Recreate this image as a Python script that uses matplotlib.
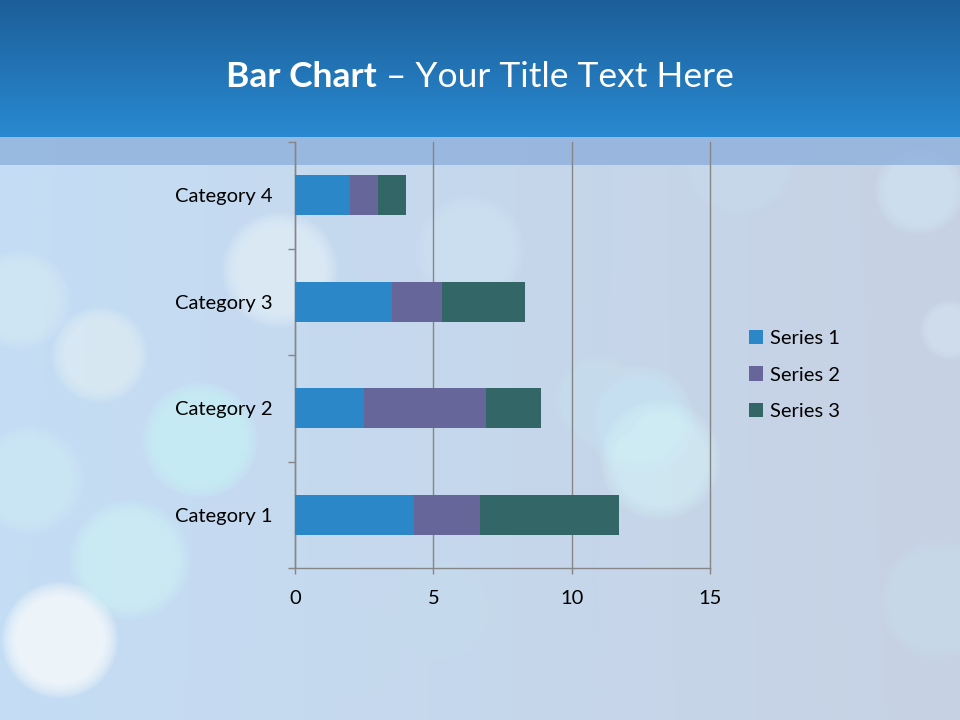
"""Stacked horizontal bar chart on a bokeh-style slide background."""
import matplotlib

matplotlib.use("Agg")

import matplotlib.pyplot as plt
import numpy as np
from matplotlib.patches import Circle, Rectangle

plt.rcParams["font.family"] = ["Lato", "DejaVu Sans"]

categories = ["Category 1", "Category 2", "Category 3", "Category 4"]
series_names = ["Series 1", "Series 2", "Series 3"]
series_1 = [4.3, 2.5, 3.5, 2.0]
series_2 = [2.4, 4.4, 1.8, 1.0]
series_3 = [5.0, 2.0, 3.0, 1.0]
x_ticks = [0, 5, 10, 15]

COLORS = ["#2C87C9", "#66669A", "#336666"]
GRID = "#868686"
W, H = 960, 720
FS = 14.5

fig = plt.figure(figsize=(9.6, 7.2), dpi=100)

# --- slide background (decoration only) ---
bg = fig.add_axes([0, 0, 1, 1])
bg.set_xlim(0, W)
bg.set_ylim(H, 0)
bg.axis("off")

xx = np.linspace(0, 1, W)[None, :, None]
yy = np.linspace(0, 1, H)[:, None, None]
left_col = np.array([0.77, 0.87, 0.96])
right_col = np.array([0.78, 0.82, 0.89])
base = left_col * (1 - xx) + right_col * xx
base = base * (1 - 0.08 * yy) + 0.08 * yy * np.array([0.78, 0.84, 0.93])
bg.imshow(np.clip(base, 0, 1), extent=(0, W, H, 0), interpolation="none",
          aspect="auto", zorder=0)

bokeh = [
    (60, 640, 58, "#FFFFFF", 0.85),
    (130, 560, 60, "#D2F6FB", 0.7),
    (200, 440, 58, "#CDF7FB", 0.7),
    (100, 355, 48, "#EAF6FC", 0.55),
    (280, 270, 58, "#EEF7FD", 0.6),
    (20, 300, 50, "#DFF3FB", 0.5),
    (470, 250, 55, "#D6EAFB", 0.45),
    (440, 610, 50, "#D0ECF8", 0.3),
    (355, 650, 48, "#C8E8F8", 0.35),
    (640, 420, 55, "#C8EDFA", 0.55),
    (660, 460, 60, "#D8F8FC", 0.55),
    (600, 400, 45, "#CBE8F8", 0.4),
    (740, 160, 55, "#CFE6F8", 0.35),
    (920, 190, 45, "#D6ECFB", 0.55),
    (950, 330, 30, "#DCEFFB", 0.45),
    (940, 600, 60, "#CDE6F6", 0.35),
    (700, 690, 55, "#C8E3F7", 0.3),
    (560, 560, 45, "#C9E2F6", 0.3),
    (820, 470, 40, "#D3E6F5", 0.25),
    (30, 480, 55, "#D4F2FA", 0.5),
]
n_layers = 8
for cx, cy, r, col, a in bokeh:
    for k in range(n_layers):
        bg.add_patch(Circle((cx, cy), r * (1 - 0.035 * k), color=col,
                            alpha=a / n_layers * 1.4, lw=0, zorder=1))

# title band and light strip under it
top = np.array([0.11, 0.37, 0.60])
bottom = np.array([0.16, 0.54, 0.82])
t = np.linspace(0, 1, 137)[:, None, None]
band = np.repeat(top * (1 - t) + bottom * t, 4, axis=1)
bg.imshow(band, extent=(0, W, 137, 0), interpolation="none", aspect="auto", zorder=3)
bg.add_patch(Rectangle((0, 137), W, 28, color="#8EB0DC", alpha=0.8, lw=0, zorder=3))

# --- chart ---
ax = fig.add_axes([295 / W, 152 / H, 415 / W, 426 / H])
ax.patch.set_alpha(0)

y = np.arange(len(categories))
left = np.zeros(len(categories))
for name, vals, col in zip(series_names, [series_1, series_2, series_3], COLORS):
    ax.barh(y, vals, left=left, height=0.38, color=col, label=name, zorder=3)
    left += np.array(vals)

ax.set_xlim(0, 15)
ax.set_ylim(-0.5, len(categories) - 0.5)
ax.set_xticks(x_ticks)
ax.set_xticklabels([str(v) for v in x_ticks])
ax.set_yticks(y)
ax.set_yticklabels(categories)
ax.set_yticks(np.arange(-0.5, len(categories)), minor=True)
ax.tick_params(axis="y", which="major", length=0, pad=16, labelsize=FS, labelcolor="black")
ax.tick_params(axis="y", which="minor", length=5, width=1, color=GRID)
ax.tick_params(axis="x", which="major", length=4, width=1, color=GRID, pad=12,
               labelsize=FS, labelcolor="black")
ax.xaxis.grid(True, color=GRID, lw=1, zorder=0)
for line in ax.get_xgridlines():
    line.set_clip_on(False)
ax.set_axisbelow(True)
for side in ("top", "right"):
    ax.spines[side].set_visible(False)
for side in ("left", "bottom"):
    ax.spines[side].set_color(GRID)
    ax.spines[side].set_linewidth(1)

fig.legend(loc="center left", bbox_to_anchor=(741 / W, 1 - 375 / H), frameon=False,
           fontsize=FS, handlelength=0.7, handleheight=0.7, handletextpad=0.35,
           labelspacing=0.95, borderaxespad=0)

# --- title: bold lead-in followed by regular text, centred as one line ---
title_y = 1 - 77 / H
bold = fig.text(0, title_y, "Bar Chart", color="white", fontsize=25.5, fontweight="bold",
                va="center", ha="left")
rest = fig.text(0, title_y, " \u2013 Your Title Text Here", color="white", fontsize=25.5,
                va="center", ha="left")
fig.canvas.draw()
renderer = fig.canvas.get_renderer()
wb = bold.get_window_extent(renderer).width / W
wr = rest.get_window_extent(renderer).width / W
x0 = 0.5 - (wb + wr) / 2
bold.set_x(x0)
rest.set_x(x0 + wb)

fig.savefig("out.png", dpi=100)
